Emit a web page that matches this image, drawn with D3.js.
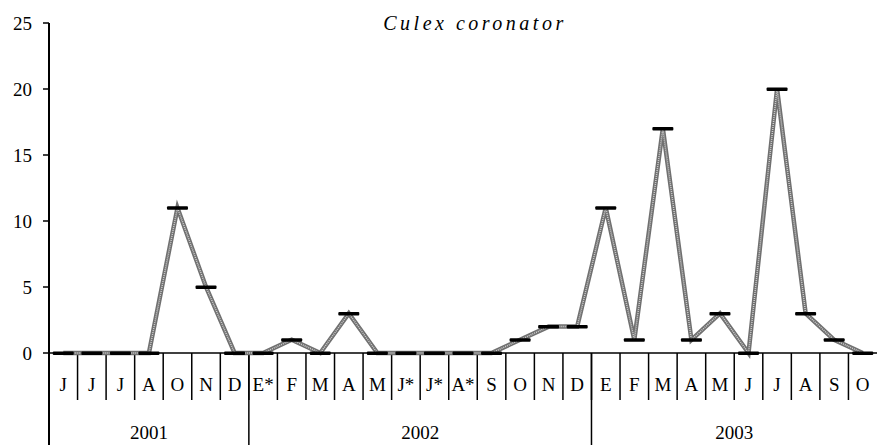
<!DOCTYPE html>
<html>
<head>
<meta charset="UTF-8">
<title>Culex coronator</title>
<style>
  * {padding:0; margin:0;}
  body {background:#fff;}
  svg {display:block;}
</style>
</head>
<body>
<svg id="chart" width="877" height="445" style="font-family:'Liberation Serif','Times New Roman',Times,serif"></svg>
<script src="https://cdn.jsdelivr.net/npm/d3@7"></script>
<script>
// datos
var months = ["J","J","J","A","O","N","D",
              "E*","F","M","A","M","J*","J*","A*","S","O","N","D",
              "E","F","M","A","M","J","J","A","S","O"];
var years = ["2001","2002","2003"];
var monthsPerYear = [7, 12, 10];
var counts = [0,0,0,0,11,5,0,
              0,1,0,3,0,0,0,0,0,1,2,2,
              11,1,17,1,3,0,20,3,1,0];
var yTicks = [0,5,10,15,20,25];
var title = "Culex coronator";

var serif = "'Liberation Serif', 'Times New Roman', Times, serif";
var svg = d3.select("#chart");
var plotLeft = 49, plotRight = 877, plotTop = 23, plotBase = 353;

var x = d3.scaleBand().domain(d3.range(months.length)).range([plotLeft, plotRight]);
var y = d3.scaleLinear().domain([0, 25]).range([plotBase, plotTop]);

// eje y
svg.append("line").attr("x1", plotLeft).attr("x2", plotLeft).attr("y1", plotTop).attr("y2", 445)
  .attr("stroke", "#000").attr("stroke-width", 2);
svg.selectAll(".ytick").data(yTicks).enter().append("line")
  .attr("x1", plotLeft - 6).attr("x2", plotLeft).attr("y1", y).attr("y2", y)
  .attr("stroke", "#000").attr("stroke-width", 1.5);
svg.selectAll(".ylab").data(yTicks).enter().append("text")
  .attr("x", 32).attr("y", y).attr("dy", "0.35em")
  .attr("text-anchor", "end").attr("font-size", 19).attr("font-family", serif)
  .text(function(d){ return d; });

// eje x
svg.append("line").attr("x1", plotLeft).attr("x2", plotRight).attr("y1", plotBase).attr("y2", plotBase)
  .attr("stroke", "#000").attr("stroke-width", 1.5);
svg.selectAll(".mdiv").data(d3.range(1, months.length)).enter().append("line")
  .attr("x1", function(i){ return x(i); }).attr("x2", function(i){ return x(i); })
  .attr("y1", plotBase).attr("y2", 400)
  .attr("stroke", "#000").attr("stroke-width", 1.5);
svg.selectAll(".mlab").data(months).enter().append("text")
  .attr("x", function(d, i){ return x(i) + x.bandwidth() / 2; })
  .attr("y", 391).attr("text-anchor", "middle").attr("font-size", 19).attr("font-family", serif)
  .text(function(d){ return d; });

// años
var starts = [0];
monthsPerYear.forEach(function(n, i){ starts.push(starts[i] + n); });
svg.selectAll(".ydiv").data(starts.slice(1, -1)).enter().append("line")
  .attr("x1", function(i){ return x(i); }).attr("x2", function(i){ return x(i); })
  .attr("y1", plotBase).attr("y2", 445)
  .attr("stroke", "#000").attr("stroke-width", 1.5);
svg.selectAll(".yrlab").data(years).enter().append("text")
  .attr("x", function(d, i){
    var a = x(starts[i]), b = starts[i + 1] < months.length ? x(starts[i + 1]) : plotRight;
    return (a + b) / 2;
  })
  .attr("y", 439).attr("text-anchor", "middle").attr("font-size", 19).attr("font-family", serif)
  .text(function(d){ return d; });

// linea
var line = d3.line()
  .x(function(d, i){ return x(i) + x.bandwidth() / 2; })
  .y(function(d){ return y(d); });
svg.append("path").datum(counts).attr("d", line)
  .attr("fill", "none").attr("stroke", "#707070").attr("stroke-width", 4.5);
svg.append("path").datum(counts).attr("d", line)
  .attr("fill", "none").attr("stroke", "#d0d0d0").attr("stroke-width", 1.5)
  .attr("stroke-dasharray", "1,1");

// marcas
svg.selectAll(".mark").data(counts).enter().append("rect")
  .attr("x", function(d, i){ return x(i) + x.bandwidth() / 2 - 10.5; })
  .attr("y", function(d){ return y(d) - 1.5; })
  .attr("width", 21).attr("height", 3.5).attr("rx", 1)
  .attr("fill", "#000");

// titulo
svg.append("text").attr("x", 475).attr("y", 30)
  .attr("text-anchor", "middle").attr("font-size", 20).attr("font-family", serif)
  .attr("font-style", "italic").attr("letter-spacing", 3.5)
  .text(title);
</script>
</body>
</html>
